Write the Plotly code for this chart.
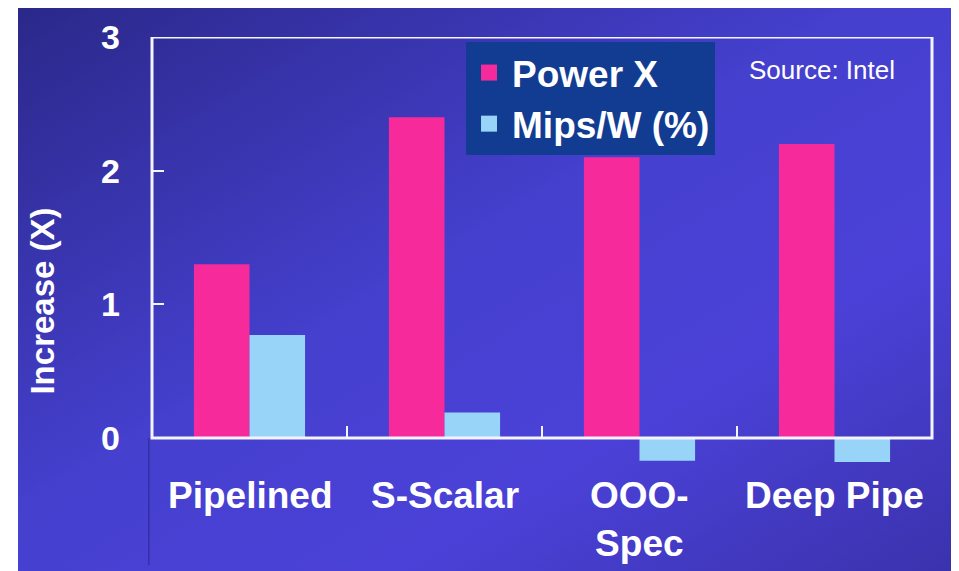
import base64
import plotly.graph_objects as go

categories = ["Pipelined", "S-Scalar", "OOO-<br>Spec", "Deep Pipe"]
power_x = [1.3, 2.4, 2.1, 2.2]
mips_w = [0.77, 0.19, -0.17, -0.18]
series_names = ["Power X", "Mips/W (%)"]
y_ticks = [0, 1, 2, 3]

PINK = "#f72a9c"
LIGHT = "#98d4f8"
FONT = "Liberation Sans, Arial, sans-serif"

svg = """<svg xmlns='http://www.w3.org/2000/svg' width='941' height='571' preserveAspectRatio='none'>
<defs><linearGradient id='g' x1='0' y1='0' x2='1' y2='1'>
<stop offset='0' stop-color='#2b288a'/>
<stop offset='0.45' stop-color='#4540ce'/>
<stop offset='0.7' stop-color='#4b41d8'/>
<stop offset='1' stop-color='#3a32ac'/>
</linearGradient></defs>
<rect width='941' height='571' fill='url(#g)'/></svg>"""
bg_uri = "data:image/svg+xml;base64," + base64.b64encode(svg.encode()).decode()

fig = go.Figure()
fig.add_trace(go.Bar(x=categories, y=power_x, name=series_names[0],
                     marker=dict(color=PINK, line=dict(width=0)), showlegend=False))
fig.add_trace(go.Bar(x=categories, y=mips_w, name=series_names[1],
                     marker=dict(color=LIGHT, line=dict(width=0)), showlegend=False))
# legend entries (larger square swatches)
for name, col in zip(series_names, [PINK, LIGHT]):
    fig.add_trace(go.Scatter(x=[None], y=[None], mode="markers", name=name,
                             legendgroup=name,
                             marker=dict(symbol="square", size=16, color=col)))

# page body has an 8px margin, so the figure is sized/offset to compensate
W, H = 951, 563
ml, mr, mt, mb = 144, 27, 29, 6
bg_left = 10

shapes = []
# frame from 0 to 3
shapes.append(dict(type="rect", xref="paper", yref="y", x0=0, x1=1, y0=0, y1=max(y_ticks),
                   line=dict(color="#f4f4ff", width=3), layer="above"))
# category boundary ticks on zero line
for i in range(len(categories) - 1):
    shapes.append(dict(type="line", xref="x", yref="y", x0=i + 0.5, x1=i + 0.5,
                       y0=0, y1=0.09, line=dict(color="#f4f4ff", width=2)))
# faint line continuing below frame on left
shapes.append(dict(type="line", xref="paper", yref="y", x0=-0.004, x1=-0.004,
                   y0=0, y1=-0.95, line=dict(color="rgba(40,30,130,0.8)", width=1)))

annotations = []
for c in categories:
    annotations.append(dict(x=c, y=0, xref="x", yref="y", text=c, showarrow=False,
                            yanchor="top", yshift=-35, align="center",
                            font=dict(family=FONT, size=37, color="white", weight="bold")))
annotations.append(dict(x=0.859, y=0.9375, xref="paper", yref="paper", text="Source: Intel",
                        showarrow=False, xanchor="center", yanchor="middle",
                        font=dict(family=FONT, size=26, color="white")))

pw, ph = W - ml - mr, H - mt - mb
fig.update_layout(
    width=W, height=H,
    margin=dict(l=ml, r=mr, t=mt, b=mb),
    paper_bgcolor="white",
    plot_bgcolor="rgba(0,0,0,0)",
    barmode="group",
    bargap=0.43,
    bargroupgap=0,
    images=[dict(source=bg_uri, xref="paper", yref="paper",
                 x=-(ml - bg_left) / pw, y=1 + mt / ph,
                 sizex=(W - bg_left) / pw, sizey=H / ph,
                 xanchor="left", yanchor="top", sizing="stretch", layer="below")],
    xaxis=dict(type="category", range=[-0.5, len(categories) - 0.5],
               showticklabels=False, showgrid=False, zeroline=False, ticks=""),
    yaxis=dict(range=[-0.95, 3], tickvals=y_ticks, ticktext=[str(v) for v in y_ticks],
               showgrid=False, zeroline=False, showline=False,
               ticks="inside", ticklen=12, tickwidth=2, tickcolor="#f4f4ff",
               ticklabelstandoff=31,
               tickfont=dict(family=FONT, size=34, color="white", weight="bold"),
               title=dict(text="Increase (X)", standoff=36,
                          font=dict(family=FONT, size=33, color="white", weight="bold"))),
    legend=dict(x=0.4026, y=0.9905, xanchor="left", yanchor="top",
                bgcolor="#123c92", borderwidth=0,
                font=dict(family=FONT, size=37, color="white", weight="bold"),
                tracegroupgap=0, itemsizing="trace", itemwidth=36),
    shapes=shapes,
    annotations=annotations,
)

fig.write_html("out.html")
